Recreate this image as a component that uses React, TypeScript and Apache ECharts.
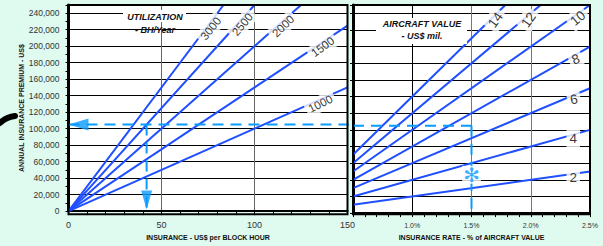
import React, { useEffect, useRef } from 'react';
import * as echarts from 'echarts';

// ---- data ----
const utilization = [1000, 1500, 2000, 2500, 3000]; // BH / year
const utilizationLabelAt = [134, 135, 113.5, 91.5, 74.5]; // US$ per BH where label sits
const aircraftValues = [2, 4, 6, 8, 10, 12, 14]; // US$ mil.
const aircraftLabelAt = [2.35, 2.35, 2.35, 2.36, 2.37, 1.95, 1.67]; // % where label sits
const premiumMax = 250000;
const insuranceMax = 150;
const rateMin = 0.5;
const rateMax = 2.5;
const exampleRate = 1.5; // %
const exampleValue = 7; // US$ mil.
const exampleUtil = 2500; // BH/year
const examplePremium = (exampleRate / 100) * exampleValue * 1e6; // 105,000
const exampleInsurance = examplePremium / exampleUtil; // 42
const exampleMarkPremium = 46000;

// ---- styles ----
const FONT = '"Liberation Sans", Arial, sans-serif';
const BLUE = '#1f4fff';
const LIGHT = '#0a9bff';
const utilRotate = [27, 36, 44, 50, 52];
const valueRotate = [0, 0, 10, 20, 40, 55, 55];
const G0 = { left: 68.5, top: 5, width: 279, height: 209.3 };
const G1 = { left: 353, top: 5, width: 237, height: 209.3 };

export default function App() {
  const ref = useRef<HTMLDivElement>(null);
  useEffect(() => {
    const chart = echarts.init(ref.current!, null, { renderer: 'svg' });

    const leftLines = utilization.map((u) => {
      const xEnd = Math.min(insuranceMax, premiumMax / u);
      return {
        type: 'line', xAxisIndex: 0, yAxisIndex: 0, z: 2, silent: true,
        symbol: 'none', lineStyle: { color: BLUE, width: 2 },
        data: [[0, 0], [xEnd, u * xEnd]],
      };
    });
    const rightLines = aircraftValues.map((v) => {
      const rEnd = Math.min(rateMax, premiumMax / (v * 10000));
      return {
        type: 'line', xAxisIndex: 1, yAxisIndex: 1, z: 2, silent: true,
        symbol: 'none', lineStyle: { color: BLUE, width: 2 },
        data: [[rateMin, rateMin * v * 10000], [rEnd, rEnd * v * 10000]],
      };
    });
    const dashStyle = { color: LIGHT, width: 2, type: [11, 7] };
    const dashed = [
      { x: 0, data: [[0, examplePremium], [insuranceMax * 1.02, examplePremium]] },
      { x: 0, data: [[exampleInsurance, examplePremium], [exampleInsurance, 0]] },
      { x: 1, data: [[rateMin, examplePremium], [exampleRate, examplePremium]] },
      { x: 1, data: [[exampleRate, examplePremium], [exampleRate, 0]] },
    ].map((d) => ({
      type: 'line', xAxisIndex: d.x, yAxisIndex: d.x, z: 3, silent: true, clip: false,
      symbol: 'none', lineStyle: dashStyle, data: d.data,
    }));

    const lineLabel = {
      show: true, position: 'inside', fontFamily: FONT, color: '#000',
      backgroundColor: '#fff', padding: [2, 3], offset: [1, 4],
    };

    const option: any = {
      animation: false,
      backgroundColor: '#dffaee',
      grid: [
        { ...G0, show: true, backgroundColor: '#fff', borderWidth: 0 },
        { ...G1, show: true, backgroundColor: '#fff', borderWidth: 0 },
      ],
      xAxis: [
        {
          type: 'value', gridIndex: 0, min: 0, max: insuranceMax, interval: 50,
          axisLine: { show: true, lineStyle: { color: '#000', width: 2 } },
          axisTick: { show: true, length: 4, lineStyle: { color: '#000' } },
          minorTick: { show: true, splitNumber: 5, length: 4, lineStyle: { color: '#000' } },
          splitLine: { show: true, lineStyle: { color: '#666', width: 1 } },
          axisLabel: { fontSize: 9, color: '#333', fontFamily: FONT, margin: 9 },
          name: 'INSURANCE - US$ per BLOCK HOUR', nameLocation: 'middle', nameGap: 18,
          nameTextStyle: { fontSize: 7, fontWeight: 'bold', color: '#111', fontFamily: FONT },
        },
        {
          type: 'value', gridIndex: 1, min: rateMin, max: rateMax, interval: 0.5,
          axisLine: { show: true, lineStyle: { color: '#000', width: 2 } },
          axisTick: { show: true, length: 4, lineStyle: { color: '#000' } },
          minorTick: { show: true, splitNumber: 5, length: 4, lineStyle: { color: '#000' } },
          splitLine: { show: true, lineStyle: { color: ['#000', '#000', '#777', '#777', '#000'], width: 1 } },
          axisLabel: {
            fontSize: 7, color: '#333', fontFamily: FONT, margin: 9,
            formatter: (v: number) => (Math.abs(v - rateMin) < 1e-9 ? '' : v.toFixed(1) + '%'),
          },
          name: 'INSURANCE RATE - % of AIRCRAFT VALUE', nameLocation: 'middle', nameGap: 17,
          nameTextStyle: { fontSize: 7, fontWeight: 'bold', color: '#111', fontFamily: FONT },
        },
      ],
      yAxis: [
        {
          type: 'value', gridIndex: 0, min: 0, max: premiumMax, interval: 20000,
          axisLine: { show: true, lineStyle: { color: '#000', width: 3 } },
          axisTick: { show: true, length: 3, lineStyle: { color: '#000' } },
          minorTick: { show: true, splitNumber: 2, length: 3, lineStyle: { color: '#000' } },
          splitLine: { show: true, lineStyle: { color: '#000', width: 1 } },
          axisLabel: {
            fontSize: 8.5, color: '#333', fontFamily: FONT, margin: 9,
            formatter: (v: number) => (v >= premiumMax ? '' : v.toLocaleString('en-US')),
          },
          name: 'ANNUAL INSURANCE PREMIUM - US$', nameLocation: 'middle', nameGap: 44, nameRotate: 90,
          nameTextStyle: { fontSize: 7, fontWeight: 'bold', color: '#111', fontFamily: FONT },
        },
        {
          type: 'value', gridIndex: 1, min: 0, max: premiumMax, interval: 20000,
          axisLine: { show: true, lineStyle: { color: '#000', width: 3 } },
          axisTick: { show: true, length: 3, lineStyle: { color: '#000' } },
          splitLine: { show: true, lineStyle: { color: '#000', width: 1 } },
          axisLabel: { show: false },
        },
      ],
      series: [
        ...leftLines,
        ...rightLines,
        ...dashed,
        {
          type: 'scatter', xAxisIndex: 0, yAxisIndex: 0, z: 5, silent: true,
          symbolSize: 1, itemStyle: { color: 'rgba(0,0,0,0)' },
          label: { ...lineLabel, fontSize: 11.5, formatter: (p: any) => String(utilization[p.dataIndex]) },
          data: utilization.map((u, i) => ({
            value: [utilizationLabelAt[i], u * utilizationLabelAt[i]],
            label: { rotate: utilRotate[i] },
          })),
        },
        {
          type: 'scatter', xAxisIndex: 1, yAxisIndex: 1, z: 5, silent: true,
          symbolSize: 1, itemStyle: { color: 'rgba(0,0,0,0)' },
          label: { ...lineLabel, fontSize: 13.5, formatter: (p: any) => String(aircraftValues[p.dataIndex]) },
          data: aircraftValues.map((v, i) => ({
            value: [aircraftLabelAt[i], v * aircraftLabelAt[i] * 10000],
            label: { rotate: valueRotate[i] },
          })),
        },
        {
          type: 'scatter', xAxisIndex: 0, yAxisIndex: 0, z: 6, silent: true,
          itemStyle: { color: LIGHT },
          data: [
            { value: [0, examplePremium], symbol: 'path://M0,6L20,0L20,12Z', symbolSize: [20, 12], symbolOffset: [10, 0] },
            { value: [exampleInsurance, 0], symbol: 'path://M0,0L12,0L6,20Z', symbolSize: [11, 19], symbolOffset: [0, -11] },
          ],
        },
        {
          type: 'scatter', xAxisIndex: 1, yAxisIndex: 1, z: 6, silent: true,
          symbolSize: 1, itemStyle: { color: 'rgba(0,0,0,0)' },
          label: {
            show: true, position: 'inside', formatter: '✻', fontSize: 20, color: LIGHT,
            fontFamily: '"DejaVu Sans", sans-serif', backgroundColor: '#fff', padding: [0, 1], lineHeight: 18,
          },
          data: [[exampleRate, exampleMarkPremium]],
        },
      ],
      graphic: [
        { type: 'rect', z: 50, shape: { x: 123, y: 10, width: 63, height: 12 }, style: { fill: '#fff' } },
        { type: 'text', z: 51, x: 155, y: 16.5, style: { text: 'UTILIZATION', fontSize: 9, fontWeight: 'bold', fontStyle: 'italic', fontFamily: FONT, fill: '#111', align: 'center', verticalAlign: 'middle' } },
        { type: 'text', z: 51, x: 155, y: 30, style: { text: '- BH/Year', fontSize: 9, fontWeight: 'bold', fontStyle: 'italic', fontFamily: FONT, fill: '#111', align: 'center', verticalAlign: 'middle' } },
        { type: 'rect', z: 50, shape: { x: 376, y: 18, width: 91, height: 26 }, style: { fill: '#fff' } },
        { type: 'text', z: 51, x: 422, y: 24, style: { text: 'AIRCRAFT VALUE', fontSize: 9, fontWeight: 'bold', fontStyle: 'italic', fontFamily: FONT, fill: '#111', align: 'center', verticalAlign: 'middle' } },
        { type: 'text', z: 51, x: 422, y: 35.5, style: { text: '- US$ mil.', fontSize: 9, fontWeight: 'bold', fontStyle: 'italic', fontFamily: FONT, fill: '#111', align: 'center', verticalAlign: 'middle' } },
        { type: 'rect', z: 60, shape: { x: G0.left, y: G0.top, width: G0.width, height: G0.height }, style: { fill: null, stroke: '#000', lineWidth: 2 } },
        { type: 'rect', z: 60, shape: { x: G1.left, y: G1.top, width: G1.width, height: G1.height }, style: { fill: null, stroke: '#000', lineWidth: 2 } },
        { type: 'bezierCurve', z: 60, shape: { x1: 0, y1: 123, x2: 15, y2: 116, cpx1: 6, cpy1: 117 }, style: { stroke: '#000', lineWidth: 6, lineCap: 'round', fill: null } },
      ],
    };
    chart.setOption(option);
    return () => chart.dispose();
  }, []);
  return <div ref={ref} style={{ position: 'fixed', left: 0, top: 0, width: 603, height: 246 }} />;
}
